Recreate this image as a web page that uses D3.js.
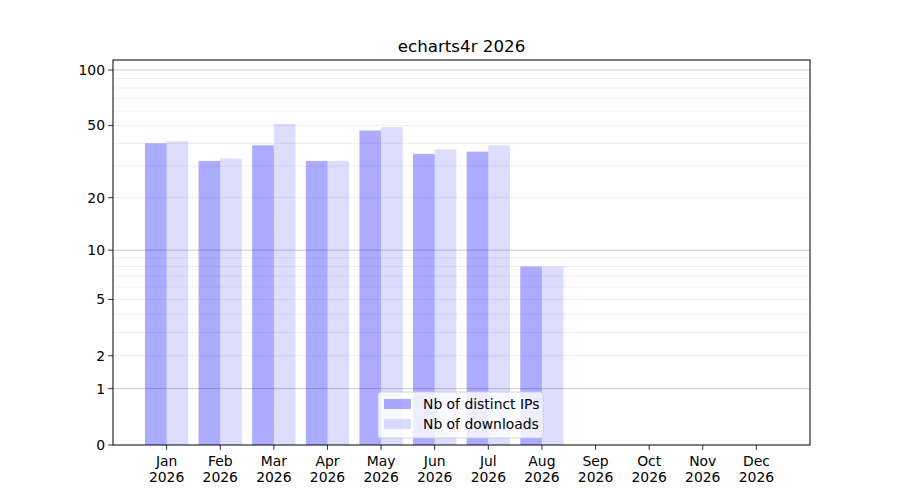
<!DOCTYPE html>
<html><head><meta charset="utf-8">
<script src="https://cdn.jsdelivr.net/npm/d3@7/dist/d3.min.js"></script>
<style>body{margin:0;background:#fff}svg{display:block}text{font-family:"DejaVu Sans",sans-serif}</style>
</head><body><svg id="c" width="900" height="500"></svg>
<script>
const months = ["Jan","Feb","Mar","Apr","May","Jun","Jul","Aug","Sep","Oct","Nov","Dec"];
const year = "2026";
const distinctIPs = [40,32,39,32,47,35,36,8,0,0,0,0];
const downloads   = [41,33,51,32,49,37,39,8,0,0,0,0];
const yTicks = [0,1,2,5,10,20,50,100];
const majorGrid = [1,10,100];
const minorGrid = [2,3,4,5,6,7,8,9,20,30,40,50,60,70,80,90];
const seriesNames = ["Nb of distinct IPs","Nb of downloads"];
const title = "echarts4r 2026";

const svg = d3.select("#c");
const L=113,R=810,T=60,B=445;
const f = v=>Math.log10(1+v);
const finv = u=>Math.pow(10,u)-1;
const y = d3.scaleLinear().domain([0, 2.058]).range([B,T]);
const yv = v=>y(f(v));
const x = d3.scalePoint().domain(months).range([L,R]).padding(1);
const bw = x.step()*0.404;

// grid
svg.append("g").selectAll("line").data(minorGrid).join("line")
  .attr("x1",L).attr("x2",R).attr("y1",d=>yv(d)).attr("y2",d=>yv(d))
  .attr("stroke","#ebebeb").attr("stroke-width",0.8);
svg.append("g").selectAll("line").data(majorGrid).join("line")
  .attr("x1",L).attr("x2",R).attr("y1",d=>yv(d)).attr("y2",d=>yv(d))
  .attr("stroke","#b0b0b0").attr("stroke-width",0.8).attr("opacity",0.8);

// bars
const gb = svg.append("g");
gb.selectAll("rect.a").data(months).join("rect").attr("class","a")
  .attr("x",d=>x(d)-bw).attr("width",bw)
  .attr("y",(d,i)=>yv(distinctIPs[i])).attr("height",(d,i)=>B-yv(distinctIPs[i]))
  .attr("fill","blue").attr("fill-opacity",0.33);
gb.selectAll("rect.b").data(months).join("rect").attr("class","b")
  .attr("x",d=>x(d)).attr("width",bw)
  .attr("y",(d,i)=>yv(downloads[i])).attr("height",(d,i)=>B-yv(downloads[i]))
  .attr("fill","blue").attr("fill-opacity",0.135);

// axes frame
svg.append("rect").attr("x",L).attr("y",T).attr("width",R-L).attr("height",B-T)
  .attr("fill","none").attr("stroke","#000").attr("stroke-width",1);

// y axis
const ya = svg.append("g").attr("transform",`translate(${L},0)`);
const yt = ya.selectAll("g").data(yTicks).join("g").attr("transform",d=>`translate(0,${yv(d)})`);
yt.append("line").attr("x1",-4.9).attr("x2",0).attr("stroke","#000").attr("stroke-width",0.8);
yt.append("text").attr("x",-8).attr("dy","0.35em").attr("text-anchor","end")
  .attr("font-size",13.9).text(d=>d);

// x axis
const xa = svg.append("g").attr("transform",`translate(0,${B})`);
const xt = xa.selectAll("g").data(months).join("g").attr("transform",d=>`translate(${x(d)},0)`);
xt.append("line").attr("y1",0).attr("y2",4.9).attr("stroke","#000").attr("stroke-width",0.8);
xt.append("text").attr("y",21).attr("text-anchor","middle").attr("font-size",13.9).text(d=>d);
xt.append("text").attr("y",37).attr("text-anchor","middle").attr("font-size",13.9).text(year);

// title
svg.append("text").attr("x",(L+R)/2).attr("y",T-8).attr("text-anchor","middle")
  .attr("font-size",16.7).text(title);

// legend
const lg = svg.append("g").attr("transform","translate(378,392)");
lg.append("rect").attr("width",165).attr("height",46).attr("rx",3)
  .attr("fill","#fff").attr("fill-opacity",0.8).attr("stroke","#cccccc").attr("stroke-width",0.8);
const op=[0.33,0.135];
seriesNames.forEach((n,i)=>{
  lg.append("rect").attr("x",6).attr("y",7+i*20).attr("width",27).attr("height",10)
    .attr("fill","blue").attr("fill-opacity",op[i]);
  lg.append("text").attr("x",45).attr("y",17+i*20).attr("font-size",13.9).text(n);
});
</script></body></html>
